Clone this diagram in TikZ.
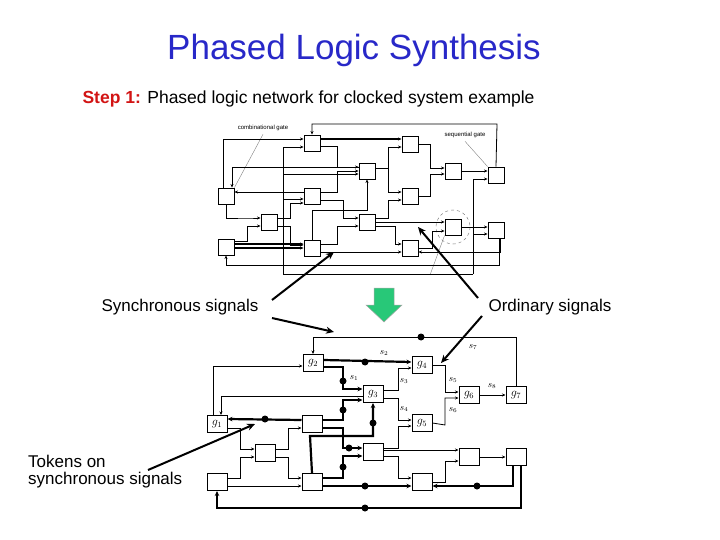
\documentclass[tikz,border=0pt]{standalone}
\usepackage{fontspec}
\setmainfont{Liberation Sans}
\usetikzlibrary{arrows.meta,calc}
\definecolor{ttl}{RGB}{40,40,200}
\definecolor{stp}{RGB}{210,20,20}
\definecolor{grn}{RGB}{40,200,120}
\begin{document}
\begin{tikzpicture}[x=1pt,y=-1pt,
 gate/.style={draw,line width=0.9pt,minimum width=16pt,minimum height=16pt,inner sep=0pt,fill=white},
 bg/.style={draw,line width=1pt,minimum width=20pt,minimum height=17pt,inner sep=0pt,fill=white,font=\fontsize{12}{12}\selectfont},
 w/.style={line width=0.8pt,-{Stealth[length=3.5pt,width=3pt]}},
 wn/.style={line width=0.8pt},
 tw/.style={line width=2.2pt,-{Stealth[length=5pt,width=4.5pt]}},
 tok/.style={circle,fill=black,inner sep=0pt,minimum size=7pt},
 pt/.style={line width=2pt,-{Stealth[length=8pt,width=7pt]}},
 lab/.style={font=\fontsize{9}{9}\selectfont\itshape}]
\useasboundingbox (0,0) rectangle (720,540);
\node[text=ttl,font=\fontsize{35}{35}\selectfont] (title) at (354,50) {Phased Logic Synthesis};
\node[anchor=west,font=\fontsize{17.5}{17.5}\selectfont] (step) at (79,99) {\textcolor{stp}{\textbf{Step 1:}} Phased logic network for clocked system example};

% ---------- top circuit ----------
\node[gate] (A) at (226,196) {};
\node[gate] (B) at (312,143) {};
\node[gate] (C) at (269,222) {};
\node[gate] (D) at (226,247) {};
\node[gate] (E) at (312,196) {};
\node[gate] (F) at (312,248) {};
\node[gate] (G) at (367,171) {};
\node[gate] (H) at (367,222) {};
\node[gate] (I) at (410,144) {};
\node[gate] (J) at (410,196) {};
\node[gate] (K) at (410,248) {};
\node[gate] (L) at (453,171) {};
\node[gate] (M) at (453,227) {};
\node[gate] (N) at (496,175) {};
\node[gate] (O) at (496,230) {};
\draw[dashed,gray,line width=0.5pt] (M) circle (17);
\node[font=\fontsize{6}{6}\selectfont] (cg) at (263,128) {combinational gate};
\node[font=\fontsize{6}{6}\selectfont] (sg) at (465,135) {sequential gate};
\draw[gray,line width=0.4pt] (cg.south) -- (A.north east);
\draw[gray,line width=0.4pt] (sg.south) -- (N.north west);
\draw[gray,line width=0.4pt] (M.south west) -- (430,275);

\draw[w] (N.north) -- (497,124) -| (B.north);
\draw[w] ([xshift=-3]A.north) -- (223,139) -- ([yshift=4]B.west);
\draw[w,line width=1.2pt] ([yshift=4]B.east) -- ([yshift=5]I.west);
\draw[w] ([yshift=-3]B.east) -- (337,146) |- ([yshift=4]G.west);
\draw[w] (359,167) -- (232,167) -- ([xshift=6]A.north);
\draw[w] (283,274) -- (283,147) -- ([yshift=-4]B.west);
\draw[w] (283,174) -- ([yshift=-3]G.west);
\draw[w] ([yshift=3]G.east) -- (388,168) |- ([yshift=-3]I.west);
\draw[w] (388,168) |- ([yshift=4]J.west);
\draw[w] (I.east) -- (430,144) |- ([yshift=3]L.west);
\draw[w] (J.east) -- (430,196) |- ([yshift=-3]L.west);
\draw[w] (L.east) -- ([yshift=4]N.west);
\draw[w] ([yshift=4]E.west) -- ([yshift=4]A.east);
\draw[w] (283,199) -- ([yshift=-3]E.west);
\draw[w] (A.south) -- (226,218) -- (249,218) -- ([yshift=4]C.west);
\draw[w] ([yshift=6]D.east) -- (247,241) |- ([yshift=-4]C.west);
\draw[w] ([yshift=4]C.east) -- (290,218) |- ([yshift=-7]E.west);
\draw[w] ([yshift=-4]C.east) -- (290,226) |- ([yshift=3]F.west);
\draw[w] ([yshift=4]E.east) -- (337,192) |- (G.west);
\draw[w] ([yshift=-4]E.east) -- (343,200) |- ([yshift=4]H.west);
\draw[w] ([yshift=4]F.east) -- (337,244) |- ([yshift=-4]H.west);
\draw[w] (F.north) -- (312,210) -| (G.south);
\draw[w] ([yshift=4]H.east) -- (388,218) |- ([yshift=-4]J.west);
\draw[w] (H.east) -- ([yshift=5]M.west);
\draw[w] ([yshift=-4]H.east) -- (395,226) |- ([yshift=4]K.west);
\draw[w] (K.east) -- (432,248) |- ([yshift=-4]M.west);
\draw[w] (M.east) -- ([yshift=3]O.west);
\draw[w,line width=1.2pt] ([yshift=3]D.east) -- ([yshift=4]F.west);
\draw[w,line width=1.2pt] ([yshift=-1]D.east) -- ([yshift=0]F.west);
\draw[w] (500,238) -- (500,252) -- ([yshift=-4]K.east);
\draw[w] ([yshift=-4]F.east) -- ([yshift=-4]K.west);
\draw[w] ([xshift=3]O.south) -- (499,265) -- (226,265) -- (D.south);
\draw[wn] (283,274) -- (473,274);
\draw[w] (473,274) |- ([yshift=-4]N.west);
\draw[w] (473,234) -- ([yshift=-4]O.west);

% ---------- pointers and labels ----------
\node[font=\fontsize{17}{17}\selectfont] (syn) at (180,307) {Synchronous signals};
\node[font=\fontsize{17}{17}\selectfont] (ord) at (550,307) {Ordinary signals};
\node[font=\fontsize{17}{17}\selectfont,align=left,anchor=west,inner sep=0pt] (tk) at (28,472) {Tokens on\\synchronous signals};
\coordinate (p1) at (334,252);
\coordinate (p2) at (334,332);
\coordinate (p3) at (418,227);
\coordinate (p4) at (441,363);
\coordinate (p5) at (255,424);
\draw[pt] (272,300) -- (p1);
\draw[pt] (272,318) -- (p2);
\draw[pt] (478,298) -- (p3);
\draw[pt] (482,316) -- (p4);
\draw[pt] (148,470) -- (p5);
\fill[grn] (374,288) -- (394,288) -- (394,305) -- (402,305) -- (384,322) -- (366,305) -- (374,305) -- cycle;
\draw[gray!70,line width=0.5pt] (374,288) -- (394,288) -- (394,305) -- (402,305) -- (384,322) -- (366,305) -- (374,305) -- cycle;

% ---------- bottom circuit ----------
\node[bg] (g2) at (313,363) {$g_2$};
\node[bg] (g4) at (422,365) {$g_4$};
\node[bg] (g3) at (373,394) {$g_3$};
\node[bg] (g6) at (469,395) {$g_6$};
\node[bg] (g7) at (516,395) {$g_7$};
\node[bg] (g1) at (217,424) {$g_1$};
\node[bg] (P) at (312,424) {};
\node[bg] (g5) at (422,423) {$g_5$};
\node[bg] (Q) at (265,453) {};
\node[bg] (R) at (373,452) {};
\node[bg] (S) at (469,457) {};
\node[bg] (T) at (516,457) {};
\node[bg] (U) at (217,482) {};
\node[bg] (V) at (312,482) {};
\node[bg] (W) at (422,482) {};

\draw[w] (g7.north) -- (516,337) -| (g2.north);
\draw[tw] ([yshift=3]g2.east) -- ([yshift=3]g4.west);
\draw[tw] ([yshift=-4]g2.east) -- (343,367) |- ([yshift=5]g3.west);
\draw[w] ([xshift=-4]g1.north) -- (213,366) -- ([yshift=-3]g2.west);
\draw[w] ([yshift=-2]g3.west) -- (221,396) -- ([xshift=4]g1.north);
\draw[w] ([yshift=4]g3.east) -- (398,390) |- ([yshift=-3]g4.west);
\draw[w] ([yshift=-4]g3.east) -- (398,398) |- ([yshift=3]g5.west);
\draw[w] (g4.east) -- (445,365) |- ([yshift=3]g6.west);
\draw[w] (g5.east) -- (445,425) |- ([yshift=-3]g6.west);
\draw[w] (g6.east) -- (g7.west);
\draw[tw] ([yshift=4]P.west) -- ([yshift=5]g1.east);
\draw[tw] ([yshift=4]P.east) -- (343,420) |- ([yshift=-6]g3.west);
\draw[tw] (V.north) -- (310,436) -| (g3.south);
\draw[w] ([yshift=-4]g1.east) -- (240,428) |- ([yshift=4]Q.west);
\draw[w] ([yshift=4]U.east) -- (240,478) |- ([yshift=-4]Q.west);
\draw[w] ([yshift=-4]U.east) -- ([yshift=-4]V.west);
\draw[w] ([yshift=4]Q.east) -- (288,449) |- ([yshift=-4]P.west);
\draw[w] ([yshift=-4]Q.east) -- (288,457) |- ([yshift=4]V.west);
\draw[tw] ([yshift=-4]P.east) -- (343,428) |- ([yshift=4]R.west);
\draw[tw] ([yshift=4]V.east) -- (343,478) |- ([yshift=-4]R.west);
\draw[tw] ([yshift=-4]V.east) -- ([yshift=-4]W.west);
\draw[w] ([yshift=4]R.east) -- (398,448) |- ([yshift=-3]g5.west);
\draw[w] ([yshift=2]R.east) -- ([yshift=7]S.west);
\draw[w] ([yshift=-4]R.east) -- (398,456) |- ([yshift=4]W.west);
\draw[w] (W.east) -- (445,482) |- ([yshift=-4]S.west);
\draw[w] (S.east) -- (T.west);
\draw[tw] ([xshift=-3]T.south) -- (513,486) -- ([yshift=-4]W.east);
\draw[tw] ([xshift=5]T.south) -- (521,508) -| (U.south);

\node[lab] at (384,353) {$s_2$};
\node[lab] at (354,378) {$s_1$};
\node[lab] at (404,381) {$s_3$};
\node[lab] at (453,380) {$s_5$};
\node[lab] at (492,386) {$s_8$};
\node[lab] at (404,409) {$s_4$};
\node[lab] at (453,410) {$s_6$};
\node[lab] at (473,347) {$s_7$};

\foreach \p in {(365,362),(421,337),(343,381),(265,419),(343,410),(373,423),(349,448),(343,467),(365,486),(477,486),(365,508)}
  \node[tok] at \p {};
\end{tikzpicture}
\end{document}
